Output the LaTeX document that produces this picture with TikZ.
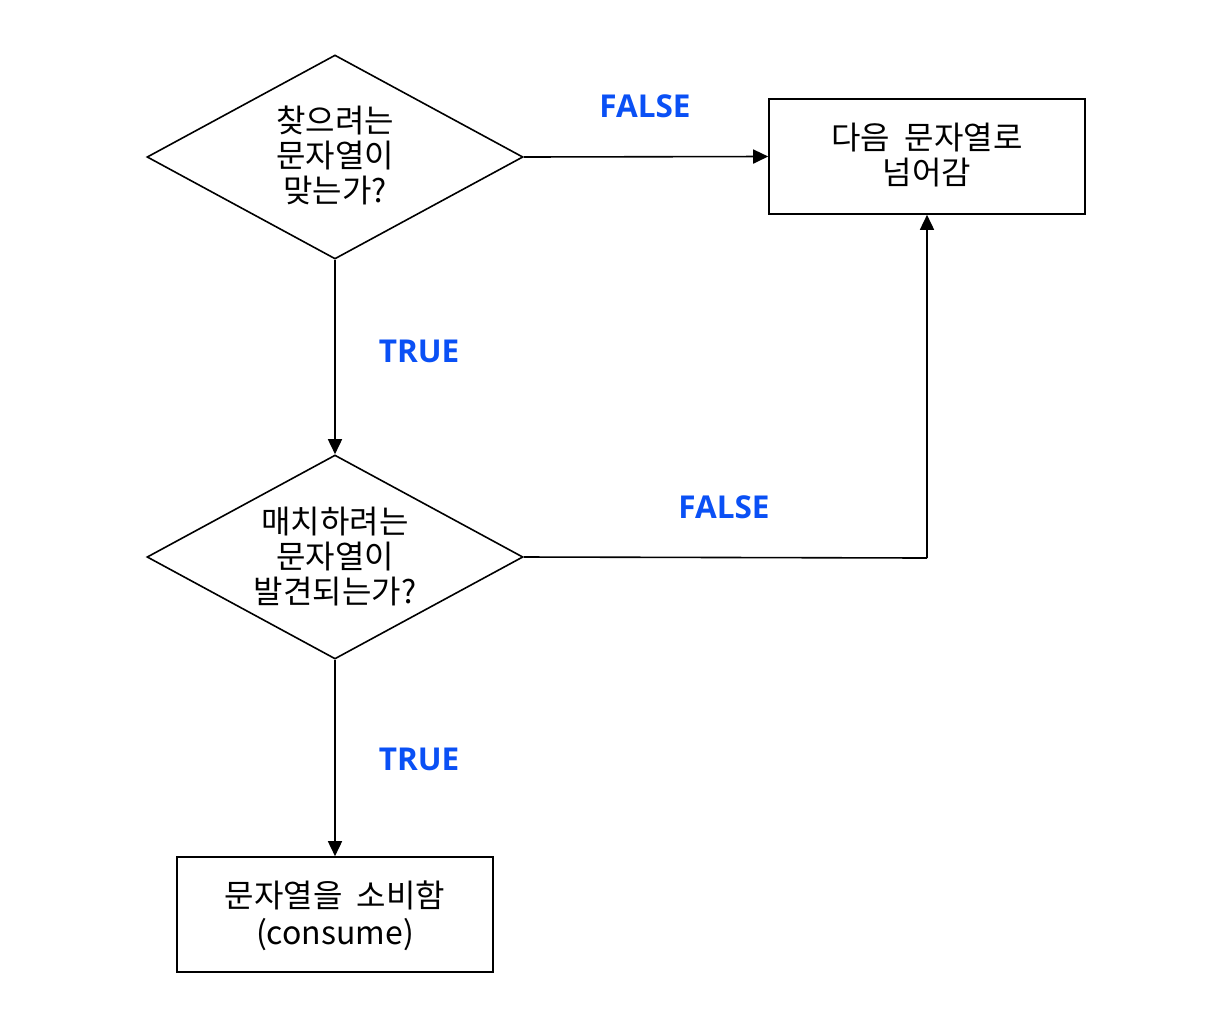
\documentclass[tikz,border=0pt]{standalone}
\usepackage{fontspec}
\setmainfont{Noto Sans CJK KR}
\newfontfamily\lblfont{Open Sans}
\usetikzlibrary{arrows.meta,shapes.geometric}
\definecolor{lblblue}{HTML}{0A50F5}
\newcommand{\wsp}{\hspace{0.45em}}
\tikzset{
  every node/.style={font=\fontsize{32}{35}\selectfont, align=center},
  decision/.style={draw, line width=1.6pt, diamond, minimum width=376pt, minimum height=204pt, inner sep=0pt, aspect=1.84},
  procbox/.style={draw, line width=1.6pt, rectangle, minimum width=316pt, minimum height=115pt, inner sep=0pt},
  flow/.style={line width=1.6pt, -{Triangle[length=15pt,width=14pt]}},
  lbl/.style={font=\lblfont\bfseries\fontsize{31.5}{33}\selectfont, text=lblblue}
}
\begin{document}
\begin{tikzpicture}[x=1pt,y=-1pt]
\useasboundingbox (0,0) rectangle (1212,1034);
\node[decision] (d1) at (335,157) {};
\node at (335,155) {찾으려는\\문자열이\\맞는가?};
\node[decision] (d2) at (335,557) {};
\node at (335,557) {매치하려는\\문자열이\\발견되는가?};
\node[procbox] (b1) at (927,156.5) {};
\node at (927,155.5) {다음\wsp 문자열로\\넘어감};
\node[procbox] (b2) at (335,914.5) {};
\node at (335,916) {문자열을\wsp 소비함\\[2pt](consume)};
\coordinate (corner) at (927,558);
\draw[flow] (d1.east) -- (b1.west);
\draw[flow] (d1.south) -- (d2.north);
\draw[line width=1.6pt] (d2.east) -- (corner);
\draw[flow] (corner) -- (b1.south);
\draw[flow] (d2.south) -- (b2.north);
\node[lbl] (f1) at (645,106) {FALSE};
\node[lbl] (t1) at (419,351) {TRUE};
\node[lbl] (f2) at (724,507) {FALSE};
\node[lbl] (t2) at (419,759) {TRUE};
\end{tikzpicture}
\end{document}
